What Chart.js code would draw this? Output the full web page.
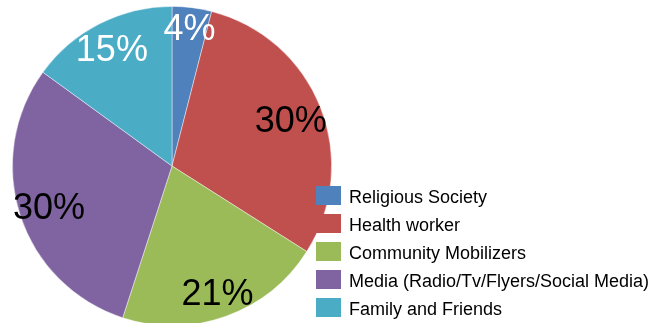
<!DOCTYPE html>
<html>
<head>
<meta charset="utf-8">
<script src="https://cdn.jsdelivr.net/npm/chart.js@4/dist/chart.umd.min.js"></script>
<style>
  html, body { margin: 0; padding: 0; background: #fff; overflow: hidden; }
  #wrap { width: 650px; height: 323px; overflow: hidden; }
  canvas { display: block; }
</style>
</head>
<body>
<div id="wrap"><canvas id="pie" width="650" height="330"></canvas></div>
<script>
// Sources of information
const categories = [
  'Religious Society',
  'Health worker',
  'Community Mobilizers',
  'Media (Radio/Tv/Flyers/Social Media)',
  'Family and Friends'
];
const shares = [4, 30, 21, 30, 15];

const sliceColors = ['#4F81BD', '#C0504D', '#9BBB59', '#8064A2', '#4BACC6'];
const labelColors = ['#ffffff', '#000000', '#000000', '#000000', '#ffffff'];
// how far out along each slice's bisector its percentage sits (fraction of radius)
const labelRadius = [0.875, 0.80, 0.84, 0.81, 0.83];

const FONT = '"Liberation Sans", Arial, Helvetica, sans-serif';

const percentLabels = {
  id: 'percentLabels',
  afterDatasetsDraw(chart) {
    const ctx = chart.ctx;
    const meta = chart.getDatasetMeta(0);
    ctx.save();
    ctx.font = '36px ' + FONT;
    ctx.textAlign = 'center';
    ctx.textBaseline = 'alphabetic';
    meta.data.forEach((arc, i) => {
      const p = arc.getProps(['x', 'y', 'startAngle', 'endAngle', 'outerRadius'], true);
      const mid = (p.startAngle + p.endAngle) / 2;
      const r = p.outerRadius * labelRadius[i];
      const x = p.x + Math.cos(mid) * r;
      const y = p.y + Math.sin(mid) * r;
      ctx.fillStyle = labelColors[i];
      ctx.fillText(shares[i] + '%', x, y + 36 * 0.358);
    });
    ctx.restore();
  }
};

const sideLegend = {
  id: 'sideLegend',
  afterDraw(chart) {
    const ctx = chart.ctx;
    const left = 316, top = 186, step = 28, boxW = 25, boxH = 19;
    ctx.save();
    ctx.font = '18px ' + FONT;
    ctx.textAlign = 'left';
    ctx.textBaseline = 'alphabetic';
    categories.forEach((name, i) => {
      const y = top + i * step;
      ctx.fillStyle = sliceColors[i];
      ctx.fillRect(left, y, boxW, boxH);
      ctx.fillStyle = '#000000';
      ctx.fillText(name, left + 33, y + 17);
    });
    ctx.restore();
  }
};

new Chart(document.getElementById('pie'), {
  type: 'pie',
  data: {
    labels: categories,
    datasets: [{
      data: shares,
      backgroundColor: sliceColors,
      borderColor: 'rgba(255,255,255,0.55)',
      borderWidth: 0.8
    }]
  },
  options: {
    responsive: false,
    devicePixelRatio: 1,
    animation: false,
    layout: { padding: { left: 12, right: 318, top: 6, bottom: 4 } },
    plugins: {
      legend: { display: false },
      tooltip: { enabled: false }
    }
  },
  plugins: [percentLabels, sideLegend]
});
</script>
</body>
</html>
